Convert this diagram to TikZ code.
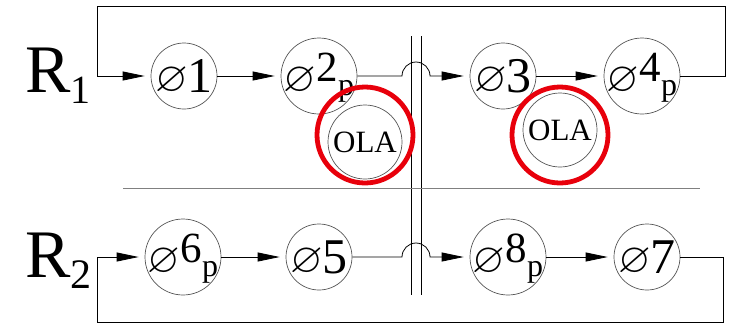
\documentclass[tikz,border=0pt]{standalone}
\usepackage{amssymb}
\usepackage{fontspec}
\setmainfont{Liberation Serif}
\usetikzlibrary{arrows.meta}
\definecolor{ring}{HTML}{E8000B}
\definecolor{rim}{HTML}{555555}
\newcommand\dia{\raisebox{-15pt}{\fontsize{42}{42}\selectfont$\varnothing$}}
\newcommand\pipe[1]{\makebox[0pt]{\smash{\dia\raisebox{-16pt}{\fontsize{50}{50}\selectfont #1}}}}
\newcommand\pipep[1]{\makebox[0pt]{\smash{\dia\raisebox{-5pt}{\fontsize{43}{43}\selectfont #1}\raisebox{-19pt}{\fontsize{32}{32}\selectfont p}}}}
\tikzset{
  pipe/.style={circle, draw=rim, line width=0.7pt, inner sep=0pt, minimum size=66pt},
  pipebig/.style={pipe, minimum size=76pt},
  flow/.style={draw, line width=0.8pt, -{Triangle[length=22pt,width=9pt]}, shorten >=6pt},
  wire/.style={draw, line width=0.8pt},
  sep/.style={draw=gray, line width=1pt},
  ola/.style={circle, draw=rim, line width=0.7pt, inner sep=0pt, minimum size=74pt, font=\fontsize{31}{31}\selectfont},
  redring/.style={circle, draw=ring, line width=4.8pt, inner sep=0pt, minimum size=96pt},
  lab/.style={font=\fontsize{68}{68}\selectfont, inner sep=0pt, anchor=base west},
}

\begin{document}
\begin{tikzpicture}[x=1pt,y=-1pt]
  \useasboundingbox (0,0) rectangle (731,325);

  % pipes, row 1 and row 2
  \node[pipe]    (n1) at (184,76) {\pipe{1}};
  \node[pipebig] (n2) at (319,76) {\pipep{2}};
  \node[pipe]    (n3) at (503,76) {\pipe{3}};
  \node[pipebig] (n4) at (642,76) {\pipep{4}};
  \node[pipebig] (n6) at (183,257) {\pipep{6}};
  \node[pipe]    (n5) at (319,257) {\pipe{5}};
  \node[pipebig] (n8) at (508,257) {\pipep{8}};
  \node[pipe]    (n7) at (647,257) {\pipe{7}};

  \node[lab] (r1) at (25,92) {R\raisebox{-11pt}{\fontsize{40}{40}\selectfont 1}};
  \node[lab] (r2) at (25,277) {R\raisebox{-11pt}{\fontsize{42}{42}\selectfont 2}};

  \coordinate (topL) at (97,6);
  \coordinate (topR) at (725,6);
  \coordinate (botL) at (97,322);
  \coordinate (botR) at (723,322);
  \coordinate (hopA) at (402,76);
  \coordinate (hopB) at (402,257);

  % crossing and separator
  \draw[wire] (411,36) -- (411,295);
  \draw[wire] (421,36) -- (421,295);
  \draw[sep] (123,188) -- (700,188);

  \draw[flow] (n1) -- (n2);
  \draw[flow] (n2) -- (hopA) .. controls +(0,-7.7) and +(-7.7,0) .. ++(14,-14)
    .. controls +(7.7,0) and +(0,-7.7) .. ++(14,14) -- (n3);
  \draw[flow] (n3) -- (n4);
  \draw[flow] (n4.east) -| (topR) -- (topL) |- (n1.west);

  \draw[flow] (n6) -- (n5);
  \draw[flow] (n5) -- (hopB) .. controls +(0,-7.7) and +(-7.7,0) .. ++(14,-14)
    .. controls +(7.7,0) and +(0,-7.7) .. ++(14,14) -- (n8);
  \draw[flow] (n8) -- (n7);
  \draw[flow] (n7.east) -| (botR) -- (botL) |- (n6.west);

  % OLA
  \node[ola] (ola1) at (365,142) {OLA};
  \node[ola] (ola2) at (560,130) {OLA};
  \node[redring] (ring1) at (365,135) {};
  \node[redring] (ring2) at (560,135) {};
\end{tikzpicture}
\end{document}
